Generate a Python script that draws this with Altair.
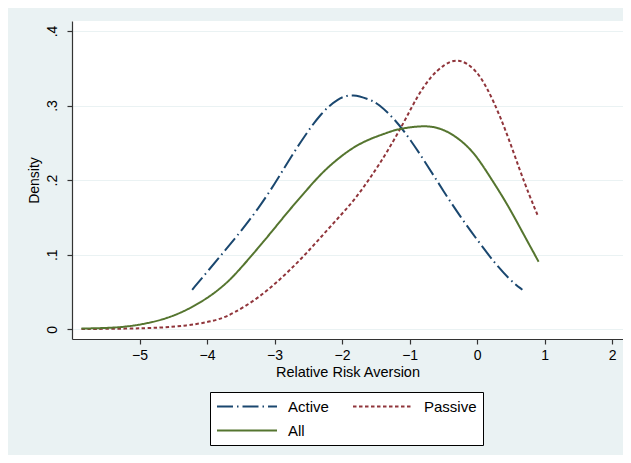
import altair as alt
import pandas as pd

# ---- data ----
active_x = [-4.22, -3.975, -3.73, -3.485, -3.24, -2.99, -2.80, -2.55, -2.31, -2.06,
            -1.84, -1.57, -1.475, -1.23, -0.985, -0.74, -0.49, -0.25, 0.00, 0.24,
            0.485, 0.67]
active_y = [0.053, 0.0795, 0.106, 0.133, 0.162, 0.196, 0.225, 0.260, 0.290, 0.310,
            0.316, 0.307, 0.303, 0.283, 0.254, 0.220, 0.184, 0.151, 0.120, 0.091,
            0.066, 0.053]

passive_x = [-5.86, -5.18, -4.69, -4.29, -4.00, -3.80, -3.61, -3.29, -3.04, -2.80,
             -2.55, -2.31, -2.06, -1.82, -1.57, -1.33, -1.08, -0.89, -0.69, -0.49,
             -0.32, -0.15, 0.044, 0.24, 0.44, 0.63, 0.78, 0.90]
passive_y = [0.0004, 0.0008, 0.002, 0.005, 0.0094, 0.0138, 0.0214, 0.039, 0.057, 0.077,
             0.0996, 0.124, 0.149, 0.173, 0.2045, 0.238, 0.278, 0.312, 0.339, 0.355,
             0.362, 0.3575, 0.341, 0.307, 0.263, 0.2135, 0.178, 0.152]

all_x = [-5.86, -5.47, -5.18, -4.88, -4.59, -4.29, -4.00, -3.80, -3.61, -3.29,
         -3.04, -2.80, -2.55, -2.31, -2.06, -1.82, -1.57, -1.33, -1.18, -0.79,
         -0.54, -0.30, -0.05, 0.19, 0.44, 0.68, 0.91]
all_y = [0.001, 0.0017, 0.0035, 0.008, 0.0147, 0.026, 0.0415, 0.055, 0.0705, 0.104,
         0.131, 0.158, 0.184, 0.209, 0.229, 0.245, 0.256, 0.2635, 0.2685, 0.2735,
         0.2700, 0.258, 0.238, 0.2045, 0.169, 0.1287, 0.0906]

series = ["Active", "Passive", "All"]
colors = ["#1a476f", "#90353b", "#55752f"]
dashes = [[16, 4, 1.5, 4], [3.5, 2.5], [1, 0]]

x_ticks = [-5, -4, -3, -2, -1, 0, 1, 2]
y_ticks = [0, 0.1, 0.2, 0.3, 0.4]

rows = []
for name, xs, ys in [("Active", active_x, active_y),
                     ("Passive", passive_x, passive_y),
                     ("All", all_x, all_y)]:
    for i, (a, b) in enumerate(zip(xs, ys)):
        rows.append({"series": name, "x": a, "y": b, "i": i})
df = pd.DataFrame(rows)

FONT = "Liberation Sans"

chart = alt.Chart(df).mark_line(strokeWidth=2, interpolate="basis").encode(
    x=alt.X("x:Q",
            scale=alt.Scale(domain=[-6.0, 2.16], nice=False, zero=False),
            axis=alt.Axis(title="Relative Risk Aversion", values=x_ticks,
                          grid=False, tickSize=5, labelPadding=4,
                          labelFontSize=14, titleFontSize=14.5,
                          titlePadding=3, labelFlush=False)),
    y=alt.Y("y:Q",
            scale=alt.Scale(domain=[-0.013, 0.4133], nice=False, zero=False),
            axis=alt.Axis(title="Density", values=y_ticks, grid=True,
                          gridColor="#EAF2F3", gridWidth=1.2,
                          tickSize=5, labelAngle=270, labelAlign="center",
                          labelBaseline="bottom", labelPadding=8,
                          labelFontSize=14, titleFontSize=14,
                          titlePadding=4,
                          labelExpr="datum.value == 0 ? '0' : replace(format(datum.value, '.1f'), '0.', '.')")),
    color=alt.Color("series:N",
                    scale=alt.Scale(domain=series, range=colors),
                    title=None,
                    legend=alt.Legend(orient="none", legendX=138, legendY=371,
                                      direction="horizontal",
                                      columns=2, symbolType="stroke",
                                      symbolSize=3600, symbolStrokeWidth=2,
                                      clipHeight=17,
                                      labelFontSize=15, labelFont=FONT,
                                      labelColor="black", labelOffset=10,
                                      strokeColor="black", fillColor="white",
                                      padding=6, rowPadding=7,
                                      columnPadding=23)),
    strokeDash=alt.StrokeDash("series:N",
                              scale=alt.Scale(domain=series, range=dashes),
                              title=None),
    order="i:Q",
).properties(
    width=551,
    height=318,
    background="#EAF2F3",
    padding={"left": 64, "top": 13, "right": 0, "bottom": 116},
    autosize=alt.AutoSizeParams(type="none"),
).configure_view(
    fill="white", stroke=None
).configure_axis(
    labelFont=FONT, titleFont=FONT, labelColor="black", titleColor="black",
    domainColor="#333333", tickColor="#333333", titleFontWeight="normal",
    domainWidth=1.2, tickWidth=1.2
)

chart.save("out.html", embed_options={"renderer": "svg", "actions": False})
